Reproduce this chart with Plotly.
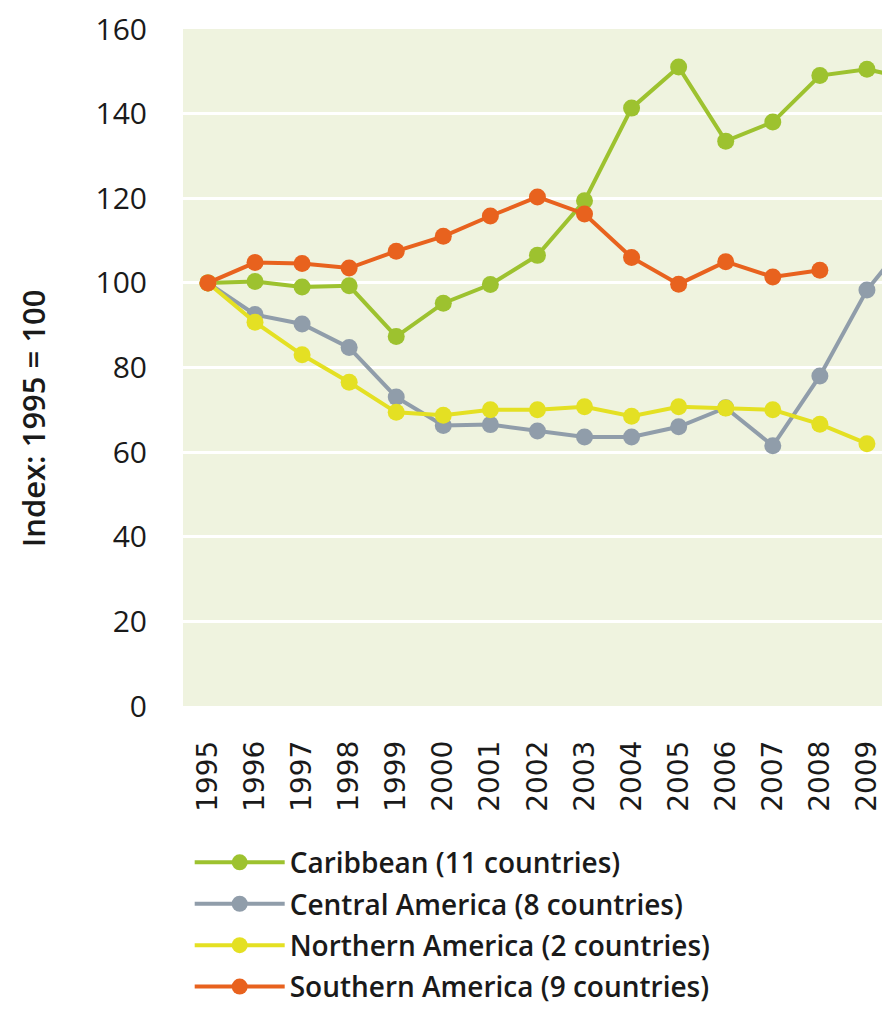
import plotly.graph_objects as go

years = list(range(1995, 2011))

caribbean = [100, 100.3, 99, 99.3, 87.3, 95.2, 99.6, 106.5, 119.4, 141.3, 151, 133.5, 138, 149, 150.5, 148]
central = [100, 92.5, 90.3, 84.7, 73, 66.3, 66.5, 65, 63.6, 63.6, 66, 70.5, 61.5, 78, 98.3, 112]
northern = [100, 90.7, 83, 76.5, 69.4, 68.7, 70, 70, 70.7, 68.5, 70.7, 70.4, 70, 66.6, 62, None]
southern = [100, 104.8, 104.6, 103.5, 107.5, 111, 115.8, 120.3, 116.3, 106, 99.7, 105, 101.4, 103, None, None]

names = ["Caribbean (11 countries)", "Central America (8 countries)",
         "Northern America (2 countries)", "Southern America (9 countries)"]
colors = ["#9DC22F", "#909DAA", "#E4E023", "#E8621E"]
series = [caribbean, central, northern, southern]

fig = go.Figure()
for name, vals, col in zip(names, series, colors):
    fig.add_trace(go.Scatter(
        x=years, y=vals, name=name, legendgroup=name, mode="lines+markers",
        line=dict(color=col, width=4),
        marker=dict(color=col, size=17),
    ))

# page body has an 8px margin, so the figure is made smaller to avoid scrollbars
fig.update_layout(
    width=882, height=1002,
    margin=dict(l=175, r=0, t=21, b=304, autoexpand=False),
    paper_bgcolor="white",
    plot_bgcolor="#EFF3DF",
    font=dict(family="Open Sans, sans-serif", color="#1a1a1a"),
    showlegend=True,
    legend=dict(
        xref="container", yref="container",
        x=0.206, y=0.172, xanchor="left", yanchor="top",
        font=dict(size=28, family="Open Sans, sans-serif", weight=600),
        tracegroupgap=2, itemwidth=90,
    ),
    annotations=[dict(
        text="Index: 1995 = 100", textangle=-90,
        xref="paper", yref="paper", x=0, y=0.425,
        xanchor="center", yanchor="middle", xshift=-150,
        showarrow=False, font=dict(size=31, weight=600),
    )],
)

fig.update_xaxes(
    range=[1994.47, 2009.49],
    tickvals=years[:15], ticktext=[str(y) for y in years[:15]],
    tickangle=-90, tickfont=dict(size=28, family="DejaVu Sans"),
    showgrid=False, zeroline=False, ticks="", ticklabelstandoff=28,
)
fig.update_yaxes(
    range=[0, 160], dtick=20,
    gridcolor="white", gridwidth=3, zeroline=False,
    tickfont=dict(size=30), ticks="", ticklabelstandoff=35,
    ticklabeloverflow="allow",
)

fig.write_html("out.html")
